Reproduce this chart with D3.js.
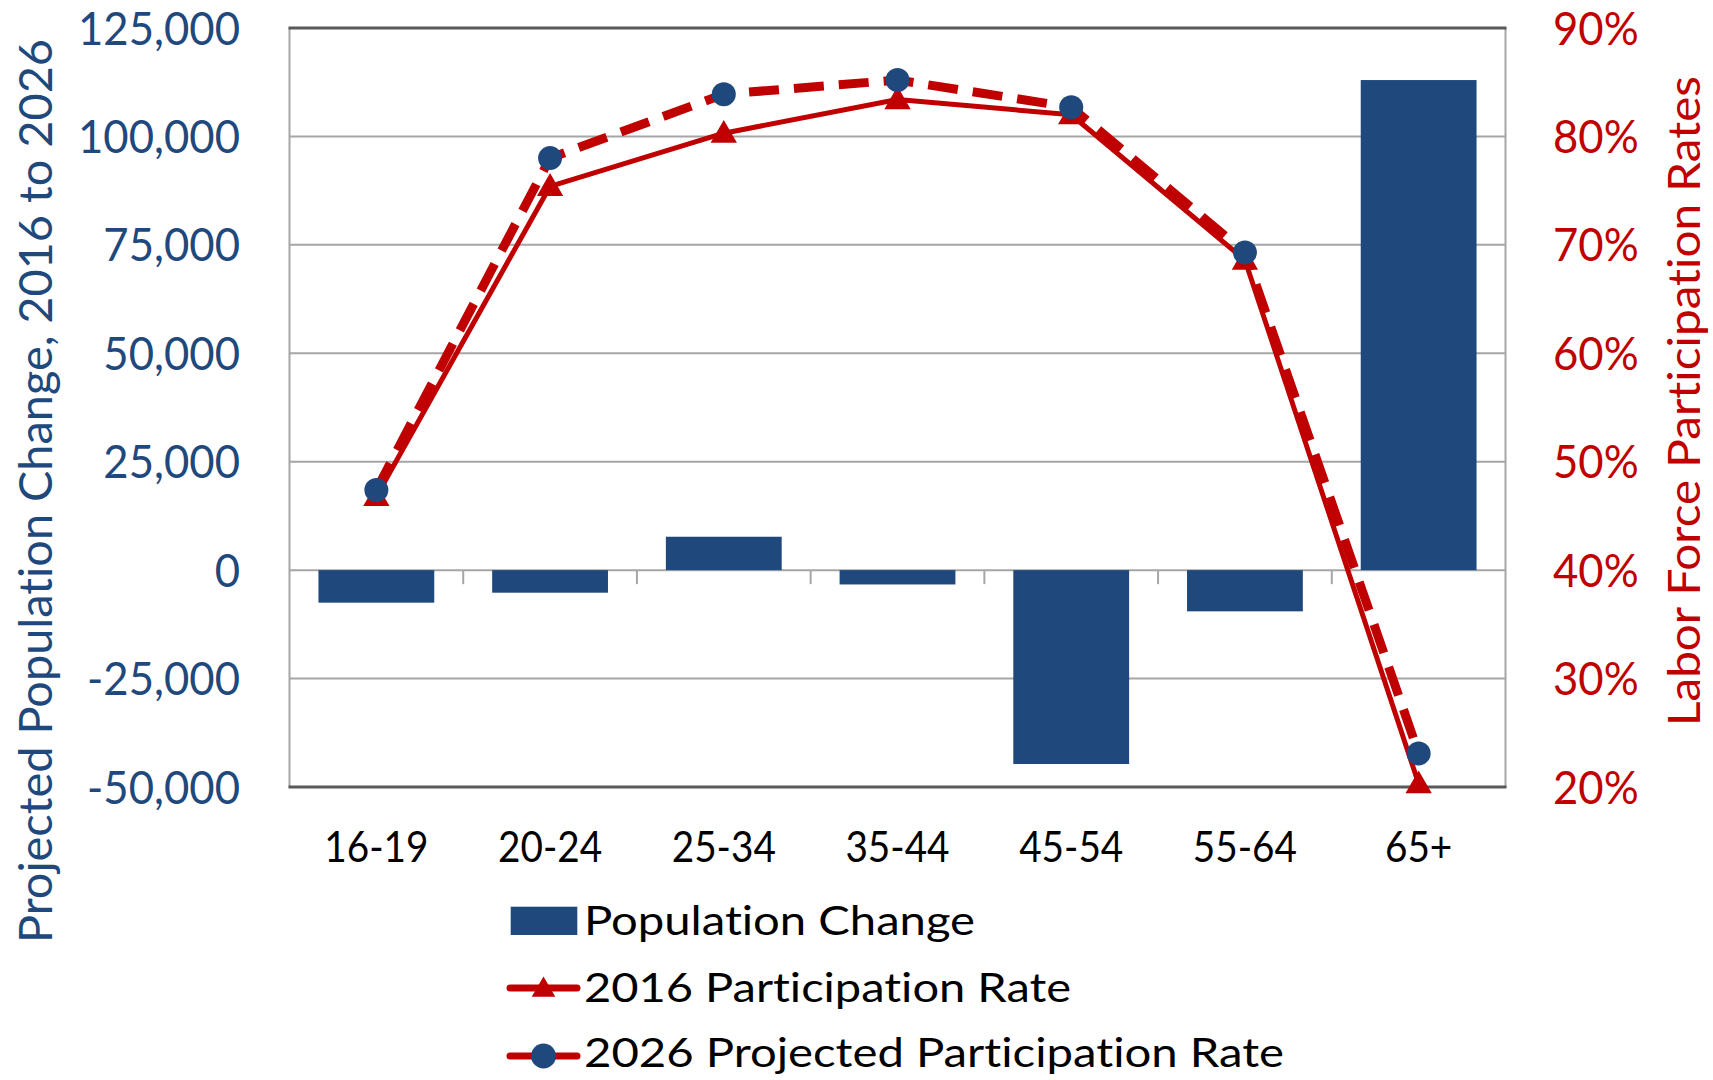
<!DOCTYPE html>
<html>
<head>
<meta charset="utf-8">
<script src="https://cdn.jsdelivr.net/npm/d3@7"></script>
<style>
  html, body { margin: 0; padding: 0; background: #fff; }
  svg { display: block; }
  text { font-variant-ligatures: none; font-feature-settings: "liga" 0, "clig" 0; }
</style>
</head>
<body>
<script>
// ---------- data ----------
const categories = ["16-19", "20-24", "25-34", "35-44", "45-54", "55-64", "65+"];
const popChange = [-7500, -5200, 7700, -3300, -44700, -9500, 113000];
const rate2016 = [0.468, 0.754, 0.803, 0.834, 0.820, 0.686, 0.203];
const rate2026 = [0.474, 0.780, 0.839, 0.852, 0.827, 0.693, 0.231];
const leftTicks = [-50000, -25000, 0, 25000, 50000, 75000, 100000, 125000];
const leftTickLabels = ["-50,000", "-25,000", "0", "25,000", "50,000", "75,000", "100,000", "125,000"];
const rightTicks = [0.2, 0.3, 0.4, 0.5, 0.6, 0.7, 0.8, 0.9];
const rightTickLabels = ["20%", "30%", "40%", "50%", "60%", "70%", "80%", "90%"];
const seriesNames = ["Population Change", "2016 Participation Rate", "2026 Projected Participation Rate"];
const leftTitle = "Projected Population Change, 2016 to 2026";
const rightTitle = "Labor Force Participation Rates";

// ---------- layout ----------
const W = 1713, H = 1080;
const plot = { left: 289.5, right: 1505.5, top: 28, bottom: 787 };
const NAVY = "#1F497D", RED = "#C00000";
const FONT = "Lato, 'Open Sans', sans-serif";

const svg = d3.select("body").append("svg").attr("width", W).attr("height", H);

const x = d3.scaleBand().domain(categories).range([plot.left, plot.right])
  .paddingInner(1 / 3).paddingOuter(1 / 6);
const yL = d3.scaleLinear().domain([-50000, 125000]).range([plot.bottom, plot.top]);
const yR = d3.scaleLinear().domain([0.2, 0.9]).range([plot.bottom, plot.top]);
const cx = c => x(c) + x.bandwidth() / 2;

// gridlines
const gridG = svg.append("g");
gridG.selectAll("line.grid").data(leftTicks.filter(t => t > -50000 && t < 125000)).join("line")
  .attr("x1", plot.left).attr("x2", plot.right)
  .attr("y1", d => yL(d)).attr("y2", d => yL(d))
  .attr("stroke", "#A6A6A6").attr("stroke-width", 2);
gridG.append("line").attr("x1", plot.left).attr("x2", plot.left).attr("y1", plot.top).attr("y2", plot.bottom)
  .attr("stroke", "#A6A6A6").attr("stroke-width", 2);
gridG.append("line").attr("x1", plot.right).attr("x2", plot.right).attr("y1", plot.top).attr("y2", plot.bottom)
  .attr("stroke", "#A6A6A6").attr("stroke-width", 2);
[125000, -50000].forEach(v => {
  gridG.append("line").attr("x1", plot.left - 1).attr("x2", plot.right + 1)
    .attr("y1", yL(v)).attr("y2", yL(v)).attr("stroke", "#595959").attr("stroke-width", 3);
});
const bounds = d3.range(1, categories.length).map(i => plot.left + i * x.step());
gridG.selectAll("line.ctick").data(bounds).join("line")
  .attr("x1", d => d).attr("x2", d => d)
  .attr("y1", yL(0)).attr("y2", yL(0) + 14)
  .attr("stroke", "#A6A6A6").attr("stroke-width", 2);

// bars
svg.append("g").selectAll("rect").data(categories).join("rect")
  .attr("x", d => x(d))
  .attr("width", x.bandwidth())
  .attr("y", (d, i) => Math.min(yL(popChange[i]), yL(0)))
  .attr("height", (d, i) => Math.abs(yL(popChange[i]) - yL(0)))
  .attr("fill", NAVY);

// lines
const rateLine = d3.line().x((d, i) => cx(categories[i])).y(d => yR(d));
svg.append("path").datum(rate2016).attr("d", rateLine)
  .attr("fill", "none").attr("stroke", RED).attr("stroke-width", 5).attr("stroke-linejoin", "round");
const tri = d3.symbol().type(d3.symbolTriangle).size(300);
svg.append("g").selectAll("path").data(rate2016).join("path")
  .attr("d", tri)
  .attr("transform", (d, i) => `translate(${cx(categories[i])},${yR(d) + 2})`)
  .attr("fill", RED);

svg.append("path").datum(rate2026).attr("d", rateLine)
  .attr("fill", "none").attr("stroke", RED).attr("stroke-width", 9)
  .attr("stroke-dasharray", "30,15").attr("stroke-linejoin", "round");
svg.append("g").selectAll("circle").data(rate2026).join("circle")
  .attr("cx", (d, i) => cx(categories[i])).attr("cy", d => yR(d))
  .attr("r", 12).attr("fill", NAVY);

// left axis labels
svg.append("g").selectAll("text").data(leftTicks).join("text")
  .attr("transform", d => `translate(240,${yL(d)}) scale(0.95,1)`)
  .attr("dy", "0.36em").attr("text-anchor", "end")
  .attr("font-family", FONT).attr("font-size", 46).attr("fill", NAVY)
  .text((d, i) => leftTickLabels[i]);

// right axis labels
svg.append("g").selectAll("text").data(rightTicks).join("text")
  .attr("transform", d => `translate(1553,${yR(d)}) scale(0.95,1)`)
  .attr("dy", "0.36em").attr("text-anchor", "start")
  .attr("font-family", FONT).attr("font-size", 46).attr("fill", RED)
  .text((d, i) => rightTickLabels[i]);

// category labels
svg.append("g").selectAll("text").data(categories).join("text")
  .attr("transform", d => `translate(${cx(d)},862) scale(0.9,1)`)
  .attr("text-anchor", "middle")
  .attr("font-family", FONT).attr("font-size", 43).attr("fill", "#000")
  .text(d => d);

// axis titles
svg.append("text")
  .attr("transform", `translate(52,491) rotate(-90)`)
  .attr("text-anchor", "middle")
  .attr("font-family", FONT).attr("font-size", 46).attr("fill", NAVY)
  .attr("textLength", 904).attr("lengthAdjust", "spacingAndGlyphs")
  .text(leftTitle);
svg.append("text")
  .attr("transform", `translate(1700,401) rotate(-90)`)
  .attr("text-anchor", "middle")
  .attr("font-family", FONT).attr("font-size", 45).attr("fill", RED)
  .attr("textLength", 650).attr("lengthAdjust", "spacingAndGlyphs")
  .text(rightTitle);

// legend
const legendBase = [935, 1001.7, 1066.7];
const legendWidths = [391, 487, 700];
const lg = svg.append("g");
lg.append("rect").attr("x", 510.7).attr("y", 906.7).attr("width", 66.6).attr("height", 28.3).attr("fill", NAVY);
lg.append("line").attr("x1", 510).attr("x2", 577).attr("y1", 988).attr("y2", 988)
  .attr("stroke", RED).attr("stroke-width", 7).attr("stroke-linecap", "round");
lg.append("path").attr("d", d3.symbol().type(d3.symbolTriangle).size(240))
  .attr("transform", "translate(543.5,990)").attr("fill", RED);
lg.append("line").attr("x1", 510).attr("x2", 577).attr("y1", 1056).attr("y2", 1056)
  .attr("stroke", RED).attr("stroke-width", 7).attr("stroke-linecap", "round");
lg.append("circle").attr("cx", 543.5).attr("cy", 1056).attr("r", 12.5).attr("fill", NAVY);
lg.selectAll("text").data(seriesNames).join("text")
  .attr("x", 584).attr("y", (d, i) => legendBase[i])
  .attr("font-family", FONT).attr("font-size", 41).attr("fill", "#000")
  .attr("textLength", (d, i) => legendWidths[i]).attr("lengthAdjust", "spacingAndGlyphs")
  .text(d => d);
</script>
</body>
</html>
